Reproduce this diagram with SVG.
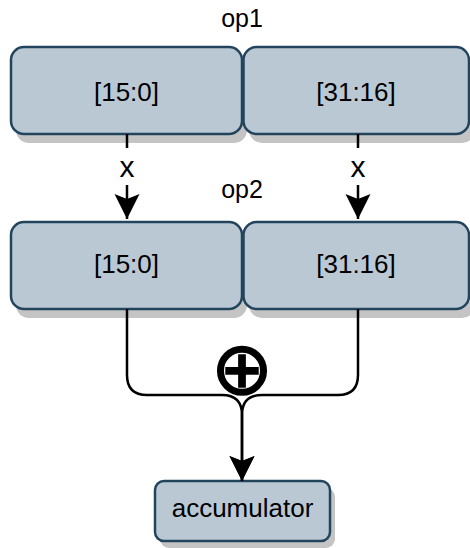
<svg xmlns="http://www.w3.org/2000/svg" width="470" height="548" viewBox="0 0 470 548">
  <style>
    .box { fill: #bac8d3; stroke: #23445d; stroke-width: 2.5; }
    .shadow { fill: #c4c4c4; }
    .label { font-family: "Liberation Sans", Arial, sans-serif; font-size: 26px; fill: #000; text-anchor: middle; }
    .title { font-family: "Liberation Sans", Arial, sans-serif; font-size: 25px; fill: #000; text-anchor: middle; }
    .edge { fill: none; stroke: #000; stroke-width: 2.5; }
    .edge-label { font-family: "Liberation Sans", Arial, sans-serif; font-size: 30px; fill: #000; text-anchor: middle; }
    .op-symbol { font-family: "DejaVu Sans", sans-serif; font-size: 74px; fill: #000; stroke: #000; stroke-width: 1.6; text-anchor: middle; }
  </style>
  <defs>
    <marker id="arrow" markerUnits="userSpaceOnUse" markerWidth="26" markerHeight="26" viewBox="0 0 26 26" refX="25" refY="13" orient="auto">
      <path d="M0,0.5 L25,13 L0,25.5 L5,13 Z" fill="#000"/>
    </marker>
  </defs>
  <rect width="470" height="548" fill="#fff"/>

  <!-- operand labels -->
  <text class="title" x="242" y="27">op1</text>
  <text class="title" x="242" y="198">op2</text>

  <!-- op1 halves -->
  <g id="op1-lo">
    <rect class="shadow" x="16" y="56" width="231" height="87" rx="13"/>
    <rect class="box" x="11" y="47" width="231" height="87" rx="13"/>
    <text class="label" x="126.5" y="101">[15:0]</text>
  </g>
  <g id="op1-hi">
    <rect class="shadow" x="249" y="56" width="226" height="87" rx="13"/>
    <rect class="box" x="243.5" y="47" width="225.5" height="87" rx="13"/>
    <text class="label" x="356" y="101">[31:16]</text>
  </g>

  <!-- op2 halves -->
  <g id="op2-lo">
    <rect class="shadow" x="16" y="231" width="231" height="87" rx="13"/>
    <rect class="box" x="11" y="222" width="231" height="87" rx="13"/>
    <text class="label" x="126.5" y="273">[15:0]</text>
  </g>
  <g id="op2-hi">
    <rect class="shadow" x="249" y="231" width="226" height="87" rx="13"/>
    <rect class="box" x="243.5" y="222" width="225.5" height="87" rx="13"/>
    <text class="label" x="356" y="273">[31:16]</text>
  </g>

  <!-- accumulator -->
  <g id="accumulator">
    <rect class="shadow" x="160" y="488" width="175" height="60" rx="9"/>
    <rect class="box" x="155" y="481" width="175" height="60" rx="9"/>
    <text class="label" x="242.5" y="517">accumulator</text>
  </g>

  <!-- connectors -->
  <g id="connectors">
    <path class="edge" d="M127 134 V148 M127 185 V219" marker-end="url(#arrow)"/>
    <path class="edge" d="M358 134 V148 M358 185 V219" marker-end="url(#arrow)"/>
    <text class="edge-label" x="127" y="177">x</text>
    <text class="edge-label" x="358" y="177">x</text>
    <path class="edge" d="M127 309 V375 Q127 395 147 395 H222 Q242 395 242 415 V481" marker-end="url(#arrow)"/>
    <path class="edge" d="M358 309 V375 Q358 395 338 395 H262 Q242 395 242 415 V481" marker-end="url(#arrow)"/>
    <text class="op-symbol" x="242" y="394">⊕</text>
  </g>
</svg>
